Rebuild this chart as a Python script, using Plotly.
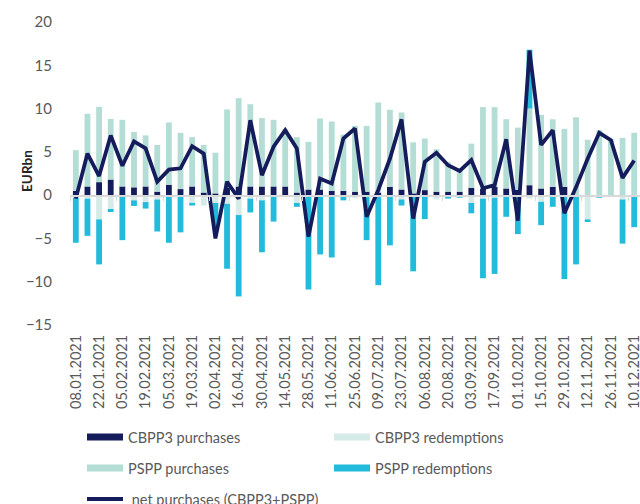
import pandas as pd
import plotly.graph_objects as go

weeks = pd.date_range("2021-01-08", "2021-12-10", freq="7D").strftime("%d.%m.%Y").tolist()

cbpp3_purchases = [0.5, 1.0, 1.5, 1.8, 1.0, 0.9, 1.0, 0.4, 1.2, 0.7,
                   1.0, 0.3, 0.2, 0.9, 1.0, 1.0, 1.0, 1.0, 1.0, 0.3,
                   0.65, 0.65, 0.5, 0.5, 0.4, 0.4, 0.3, 0.96, 0.65, 0.2,
                   0.58, 0.4, 0.4, 0.4, 0.85, 0.77, 0.96, 0.77, 0.6, 1.15,
                   0.77, 0.96, 0.96, 0.0, 0.0, 0.0, 0.0, 0.0, 0.0]
cbpp3_redemptions = [-0.3, -0.4, -2.8, -1.6, -0.1, -0.6, -0.8, -0.5, -0.1, -0.1,
                     -0.9, -1.2, -0.9, -1.0, -2.3, -0.4, -0.6, -0.05, -0.2, -0.9,
                     -0.1, -0.15, -0.15, -0.05, -0.35, -0.1, -0.1, -0.1, -0.5, -0.2,
                     -0.1, -0.5, -0.1, -0.1, -0.9, -0.4, -0.3, -0.1, -0.1, -0.4,
                     -0.77, -0.2, -0.1, -0.1, -2.8, 0.0, 0.0, -0.5, 0.0]
pspp_purchases = [4.7, 8.4, 8.7, 7.0, 7.7, 6.4, 5.9, 5.4, 7.2, 6.5,
                  5.7, 5.5, 4.7, 9.0, 10.2, 9.5, 7.9, 7.7, 6.6, 6.4,
                  5.5, 8.2, 8.0, 6.5, 7.6, 7.6, 10.4, 8.9, 8.9, 5.9,
                  5.96, 4.9, 3.4, 2.7, 5.1, 9.4, 9.2, 8.0, 7.2, 8.85,
                  8.5, 7.8, 6.7, 9.0, 6.4, 7.5, 6.5, 6.6, 7.2]
pspp_redemptions = [-5.2, -4.3, -5.2, -0.35, -5.1, -0.65, -0.75, -3.7, -5.4, -4.2,
                    -0.3, 0.0, -2.8, -7.5, -9.4, -1.6, -6.0, -3.0, 0.0, -0.45,
                    -10.8, -6.7, -7.05, -0.55, 0.0, -5.1, -10.3, -5.7, -0.7, -8.6,
                    -2.67, 0.0, -0.3, -0.2, -1.2, -9.2, -8.8, -2.4, -4.4, 6.8,
                    -2.7, -1.15, -9.6, -7.9, -0.3, -0.3, 0.0, -5.1, -3.7]
net_purchases = [-0.4, 4.8, 2.2, 6.9, 3.4, 6.2, 5.4, 1.55, 2.95, 3.1,
                 5.65, 4.8, -5.0, 1.55, -0.4, 8.65, 2.3, 5.6, 7.5, 5.4,
                 -4.8, 1.9, 1.35, 6.55, 7.7, -2.5, 0.6, 4.2, 8.75, -2.7,
                 3.85, 4.9, 3.45, 2.8, 4.05, 0.8, 1.15, 6.45, -2.95, 16.7,
                 5.8, 7.5, -2.1, 0.9, 4.2, 7.2, 6.35, 2.0, 4.0]

NAVY = "#151c5c"
LIGHT = "#d5ebe7"
TEAL = "#b4ddd5"
CYAN = "#22bbdc"
GREY_TXT = "#595959"
FONT = "Lato"

x = list(range(len(weeks)))

fig = go.Figure()
for name, vals, col in [("CBPP3 purchases", cbpp3_purchases, NAVY),
                        ("CBPP3 redemptions", cbpp3_redemptions, LIGHT),
                        ("PSPP purchases", pspp_purchases, TEAL),
                        ("PSPP redemptions", pspp_redemptions, CYAN)]:
    fig.add_trace(go.Bar(x=x, y=vals, name=name, marker=dict(color=col, line=dict(width=0)),
                         showlegend=False))
fig.add_trace(go.Scatter(x=x, y=net_purchases, mode="lines", name="net purchases (CBPP3+PSPP)",
                         line=dict(color=NAVY, width=3.8), showlegend=False))
# overlay axis for the zero line
fig.add_trace(go.Scatter(x=[None], y=[None], xaxis="x2", showlegend=False, hoverinfo="skip"))

# legend-only entries
leg_items = [("CBPP3 purchases", NAVY, 7, "legend"), ("CBPP3 redemptions", LIGHT, 7, "legend"),
             ("PSPP purchases", TEAL, 7, "legend2"), ("PSPP redemptions", CYAN, 7, "legend2"),
             (" net purchases (CBPP3+PSPP)", NAVY, 4, "legend3")]
for name, col, w, lg in leg_items:
    fig.add_trace(go.Scatter(x=[None], y=[None], mode="lines", name=name,
                             line=dict(color=col, width=w), legend=lg))

ymin, ymax = -15, 20
PLOT_W, PLOT_H = 570, 303
PLOT_BOTTOM = 325
legcommon = dict(orientation="h", xanchor="left", yanchor="middle", x=12 / PLOT_W,
                 entrywidth=196, entrywidthmode="pixels", itemwidth=36,
                 font=dict(family=FONT, size=14.5, color=GREY_TXT),
                 bgcolor="rgba(0,0,0,0)", tracegroupgap=0)

fig.update_layout(
    width=640, height=504,
    margin=dict(l=70, r=0, t=22, b=179, autoexpand=False),
    paper_bgcolor="white", plot_bgcolor="white",
    barmode="relative", bargap=0.5,
    font=dict(family=FONT, size=14, color=GREY_TXT),
    xaxis=dict(range=[-0.5, len(weeks) - 0.5], tickmode="array",
               tickvals=x[::2], ticktext=weeks[::2], tickangle=-90,
               ticklabeloverflow="allow", ticklabelstandoff=6,
               showgrid=False, zeroline=False, showline=False, ticks="",
               tickfont=dict(family=FONT, size=14.5, color=GREY_TXT)),
    xaxis2=dict(overlaying="x", anchor="free", position=(0 - ymin) / (ymax - ymin),
                range=[-0.5, len(weeks) - 0.5], tickmode="array",
                tickvals=[i - 0.5 for i in range(0, len(weeks) + 1, 4)],
                showticklabels=False, ticks="outside", ticklen=4, tickcolor="#d9d9d9",
                showline=True, linecolor="#d9d9d9", linewidth=1.5,
                showgrid=False, zeroline=False),
    yaxis=dict(range=[ymin, ymax], tickmode="linear", tick0=0, dtick=5,
               showgrid=False, zeroline=False, showline=False,
               ticks="outside", ticklen=14, tickcolor="rgba(0,0,0,0)",
               tickfont=dict(family=FONT, size=15, color=GREY_TXT)),
    legend=dict(legcommon, y=(PLOT_BOTTOM - 437) / PLOT_H),
    legend2=dict(legcommon, y=(PLOT_BOTTOM - 468) / PLOT_H),
    legend3=dict(legcommon, y=(PLOT_BOTTOM - 499) / PLOT_H),
    annotations=[dict(text="<b>EURbn</b>", textangle=-90, x=-0.093, y=(20 - 2.2) / 35,
                      xref="paper", yref="paper", showarrow=False,
                      font=dict(family=FONT, size=13.5, color="#262626"))],
)

fig.write_html("out.html",
               config={"displayModeBar": False, "staticPlot": True},
               post_script="document.body.style.margin='0';"
                           "document.documentElement.style.overflow='hidden';")
